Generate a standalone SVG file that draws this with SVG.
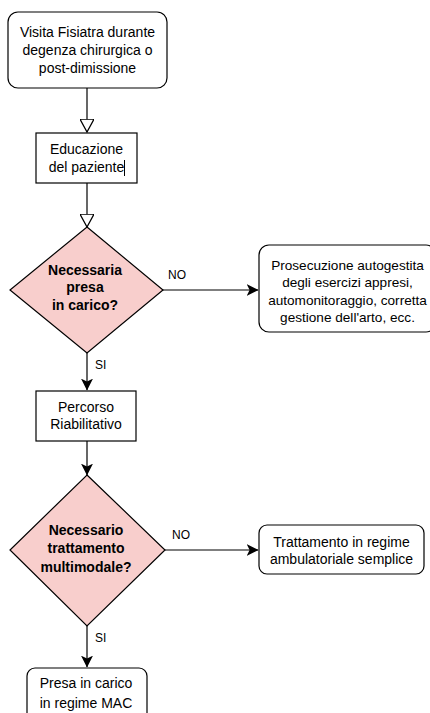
<svg xmlns="http://www.w3.org/2000/svg" width="430" height="713" viewBox="0 0 430 713">
<style>
.box{fill:#fff;stroke:#000;stroke-width:1.2}
.dia{fill:#f8cecc;stroke:#000;stroke-width:1.2}
.t{font-family:"Liberation Sans",Arial,sans-serif;font-size:14px;fill:#000;text-anchor:middle}
.s{font-size:13.6px}
.b{font-weight:bold}
.lbl{font-family:"Liberation Sans",Arial,sans-serif;font-size:12px;fill:#000}
.edge{stroke:#000;stroke-width:1.2;fill:none}
</style>
<defs>
<marker id="hollow" markerUnits="userSpaceOnUse" markerWidth="14" markerHeight="14" viewBox="0 0 12 12" refX="11" refY="6" orient="auto">
<path d="M0,0 L11,6 L0,12 Z" fill="#fff" stroke="#000" stroke-width="1.1"/>
</marker>
<marker id="classic" markerUnits="userSpaceOnUse" markerWidth="12" markerHeight="12" viewBox="0 0 10 10" refX="9.5" refY="5" orient="auto">
<path d="M0,0 L10,5 L0,10 L2.5,5 Z" fill="#000"/>
</marker>
</defs>
<g id="edges">
<line class="edge" x1="87" y1="88" x2="87" y2="132" marker-end="url(#hollow)"/>
<line class="edge" x1="87" y1="183" x2="87" y2="227" marker-end="url(#hollow)"/>
<line class="edge" x1="163" y1="290" x2="258" y2="290" marker-end="url(#classic)"/>
<text class="lbl" x="168" y="279">NO</text>
<line class="edge" x1="87" y1="353" x2="87" y2="390" marker-end="url(#classic)"/>
<text class="lbl" x="95" y="369">SI</text>
<line class="edge" x1="87" y1="441" x2="87" y2="475" marker-end="url(#classic)"/>
<line class="edge" x1="165" y1="550" x2="258" y2="550" marker-end="url(#classic)"/>
<text class="lbl" x="172" y="539">NO</text>
<line class="edge" x1="87" y1="626" x2="87" y2="667" marker-end="url(#classic)"/>
<text class="lbl" x="95" y="642">SI</text>
</g>
<g id="n1">
<rect class="box" x="8" y="12" width="159" height="76" rx="10"/>
<text class="t" x="87.5" y="37">Visita Fisiatra durante</text>
<text class="t" x="87.5" y="55">degenza chirurgica o</text>
<text class="t" x="87.5" y="73">post-dimissione</text>
</g>
<g id="n2">
<rect class="box" x="36" y="133" width="101" height="50"/>
<text class="t" x="86.5" y="154">Educazione</text>
<text class="t" x="86.5" y="172">del paziente</text>
<line x1="124.5" y1="160" x2="124.5" y2="176" stroke="#000" stroke-width="1"/>
</g>
<g id="d1">
<polygon class="dia" points="87,227 163,290 87,353 10,290"/>
<text class="t b" x="85" y="275">Necessaria</text>
<text class="t b" x="85" y="292">presa</text>
<text class="t b" x="85" y="310">in carico?</text>
</g>
<g id="n3">
<rect class="box" x="259" y="245" width="177" height="87" rx="10"/>
<text class="t s" x="347.5" y="269.5">Prosecuzione autogestita</text>
<text class="t s" x="347.5" y="287">degli esercizi appresi,</text>
<text class="t s" x="347.5" y="305">automonitoraggio, corretta</text>
<text class="t s" x="347.5" y="322">gestione dell'arto, ecc.</text>
</g>
<g id="n4">
<rect class="box" x="36" y="391" width="100" height="50"/>
<text class="t" x="86" y="412">Percorso</text>
<text class="t" x="86" y="429">Riabilitativo</text>
</g>
<g id="d2">
<polygon class="dia" points="87,475 165,550 87,626 10,550"/>
<text class="t b" x="86" y="535">Necessario</text>
<text class="t b" x="86" y="553">trattamento</text>
<text class="t b" x="86" y="572">multimodale?</text>
</g>
<g id="n5">
<rect class="box" x="259" y="525" width="165" height="49" rx="8"/>
<text class="t" x="341.5" y="547">Trattamento in regime</text>
<text class="t" x="341.5" y="564">ambulatoriale semplice</text>
</g>
<g id="n6">
<rect class="box" x="27" y="668" width="120" height="60" rx="8"/>
<text class="t" x="86" y="688">Presa in carico</text>
<text class="t" x="86" y="708">in regime MAC</text>
</g>
</svg>
